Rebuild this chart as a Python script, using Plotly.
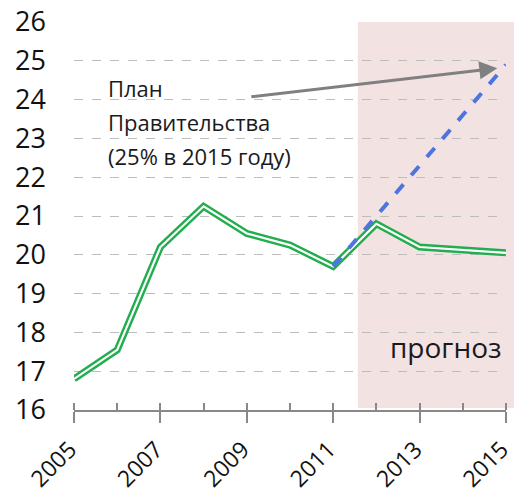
import plotly.graph_objects as go

years = [2005, 2006, 2007, 2008, 2009, 2010, 2011, 2012, 2013, 2014, 2015]
share = [16.8, 17.55, 20.2, 21.25, 20.55, 20.25, 19.7, 20.8, 20.2, 20.12, 20.05]

plan_years = [2011, 2015]
plan_share = [19.7, 24.9]

tick_years = [2005, 2007, 2009, 2011, 2013, 2015]

forecast_start = 2011.57
x_min, x_max = 2005, 2015

green = '#22ad4e'
axis_grey = '#888888'
font = '"Open Sans", sans-serif'

fig = go.Figure()

# double line: thick green with a thin white core
fig.add_trace(go.Scatter(x=years, y=share, mode='lines',
                         line=dict(color=green, width=7), hoverinfo='skip'))
fig.add_trace(go.Scatter(x=years, y=share, mode='lines',
                         line=dict(color='white', width=2.2), hoverinfo='skip'))
# government plan (on the overlay axis, so it sits on top)
fig.add_trace(go.Scatter(x=plan_years, y=plan_share, mode='lines', xaxis='x2',
                         line=dict(color='#4f74e0', width=4, dash='dash')))

# forecast zone
fx0 = (forecast_start - x_min) / (x_max - x_min)
fig.add_shape(type='rect', xref='paper', yref='y', x0=fx0, x1=1.02, y0=16.05, y1=26,
              fillcolor='#f3e2e2', line_width=0, layer='below')
# white text box hiding gridlines
fig.add_shape(type='rect', xref='paper', yref='y', x0=0.025, x1=0.553, y0=21.5, y1=25.5,
              fillcolor='white', line_width=0, layer='between')

label_lines = ['План', 'Правительства', '(25% в 2015 году)']
label_y = [24.3, 23.42, 22.55]
for txt, yy in zip(label_lines, label_y):
    fig.add_annotation(x=2005.74, y=yy, xref='x', yref='y', text=txt, showarrow=False,
                       xanchor='left', yanchor='middle',
                       font=dict(family=font, size=22, color='#1a1a1a'))

fig.add_annotation(x=2014.8, y=24.81, ax=2009.07, ay=24.07, xref='x', yref='y',
                   axref='x', ayref='y', text='', showarrow=True,
                   arrowhead=2, arrowsize=1.2, arrowwidth=3, arrowcolor='#808080')

fig.add_annotation(x=2014.95, y=17.62, xref='x', yref='y', text='прогноз', showarrow=False,
                   xanchor='right', yanchor='middle',
                   font=dict(family=font, size=28, color='#1a1a1a'))

x_range = [x_min - 0.001, x_max + 0.001]

fig.update_layout(
    width=514, height=500,
    margin=dict(l=74, r=8, t=22, b=90),
    plot_bgcolor='white', paper_bgcolor='white',
    showlegend=False,
    font=dict(family=font, size=26, color='#111111'),
    xaxis=dict(range=x_range, tickvals=tick_years,
               ticktext=[f'{y}\u00a0' for y in tick_years],
               tickangle=-45, showgrid=False, zeroline=False, automargin=False,
               ticklabeloverflow='allow',
               showline=True, linecolor=axis_grey, linewidth=1.5,
               ticks='outside', ticklen=11, tickcolor=axis_grey, tickwidth=1.5,
               minor=dict(dtick=1, ticks='inside', ticklen=7, tickcolor=axis_grey,
                          tickwidth=1.5, showgrid=False),
               tickfont=dict(size=23)),
    # overlay axis only adds the inward half of the odd-year ticks
    xaxis2=dict(overlaying='x', anchor='y', side='bottom', range=x_range,
                tickvals=tick_years, showticklabels=False, showgrid=False,
                zeroline=False, showline=False, automargin=False,
                ticks='inside', ticklen=7, tickcolor=axis_grey, tickwidth=1.5),
    yaxis=dict(range=[16, 26], dtick=1, showgrid=True, gridcolor='#bdbdbd',
               griddash='dash', gridwidth=1, zeroline=False, showline=False,
               automargin=False, ticklabeloverflow='allow',
               ticklabelstandoff=27, tickfont=dict(size=27)),
)

# drop the default page margin so the figure fills the window exactly
fig.write_html('out.html', config={'displayModeBar': False},
               post_script="document.body.style.margin = '0';")
